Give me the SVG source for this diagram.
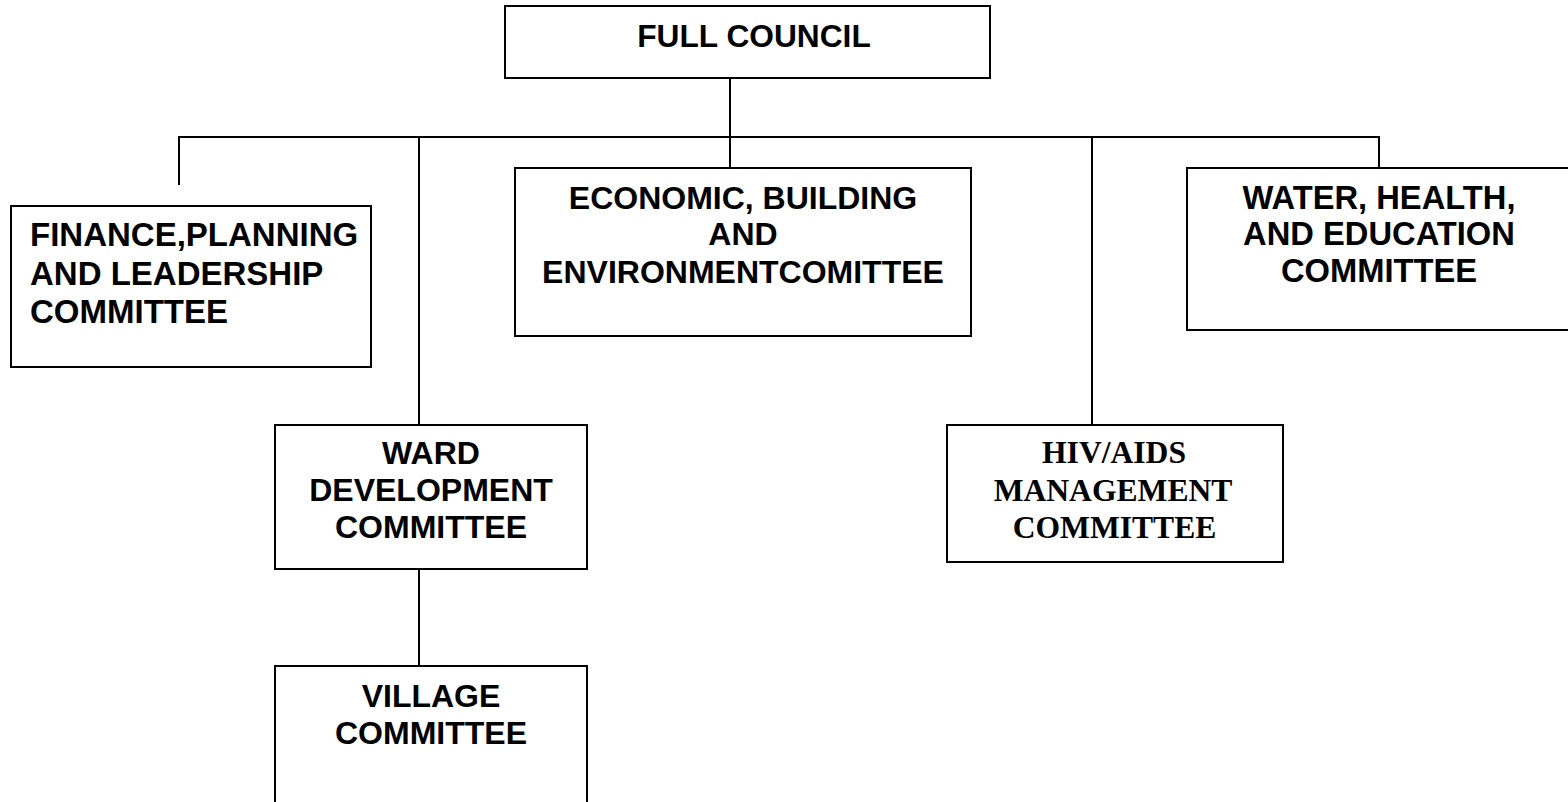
<svg xmlns="http://www.w3.org/2000/svg" width="1568" height="802" viewBox="0 0 1568 802">
<style>
.box{fill:#fff;stroke:#000;stroke-width:2}
.ln{stroke:#000;stroke-width:2;fill:none}
.t{font-family:"Liberation Sans",Arial,sans-serif;font-weight:bold;font-size:32px;fill:#000;text-anchor:middle}
.tl{text-anchor:start;font-size:33px}
.s{font-family:"Liberation Serif","Times New Roman",serif;font-weight:bold;font-size:31.6px;fill:#000;text-anchor:middle}
</style>
<rect width="1568" height="802" fill="#fff"/>
<g id="connectors">
<line class="ln" x1="730" y1="78" x2="730" y2="168"/>
<line class="ln" x1="178" y1="137" x2="1380" y2="137"/>
<line class="ln" x1="179" y1="137" x2="179" y2="185"/>
<line class="ln" x1="419" y1="137" x2="419" y2="425"/>
<line class="ln" x1="1092" y1="137" x2="1092" y2="425"/>
<line class="ln" x1="1379" y1="137" x2="1379" y2="168"/>
<line class="ln" x1="419" y1="569" x2="419" y2="666"/>
</g>
<g id="full-council">
<rect class="box" x="505" y="6" width="485" height="72"/>
<text class="t" x="754" y="47" style="font-size:31.7px">FULL COUNCIL</text>
</g>
<g id="finance">
<rect class="box" x="11" y="206" width="360" height="161"/>
<text class="t tl" x="30" y="245.5">FINANCE,PLANNING</text>
<text class="t tl" x="30" y="285">AND LEADERSHIP</text>
<text class="t tl" x="30" y="323">COMMITTEE</text>
</g>
<g id="economic">
<rect class="box" x="515" y="168" width="456" height="168"/>
<text class="t" x="743" y="209">ECONOMIC, BUILDING</text>
<text class="t" x="743" y="245">AND</text>
<text class="t" x="743" y="283">ENVIRONMENTCOMITTEE</text>
</g>
<g id="water">
<rect class="box" x="1187" y="168" width="392" height="162"/>
<text class="t" x="1379" y="209" style="font-size:32.7px">WATER, HEALTH,</text>
<text class="t" x="1379" y="245" style="font-size:32.7px">AND EDUCATION</text>
<text class="t" x="1379" y="282" style="font-size:32.7px">COMMITTEE</text>
</g>
<g id="ward">
<rect class="box" x="275" y="425" width="312" height="144"/>
<text class="t" x="431" y="464">WARD</text>
<text class="t" x="431" y="501">DEVELOPMENT</text>
<text class="t" x="431" y="538">COMMITTEE</text>
</g>
<g id="village">
<rect class="box" x="275" y="666" width="312" height="160"/>
<text class="t" x="431" y="707">VILLAGE</text>
<text class="t" x="431" y="744">COMMITTEE</text>
</g>
<g id="hiv">
<rect class="box" x="947" y="425" width="336" height="137"/>
<text class="s" x="1114" y="463">HIV/AIDS</text>
<text class="s" x="1113" y="501">MANAGEMENT</text>
<text class="s" x="1114.5" y="538">COMMITTEE</text>
</g>
</svg>
